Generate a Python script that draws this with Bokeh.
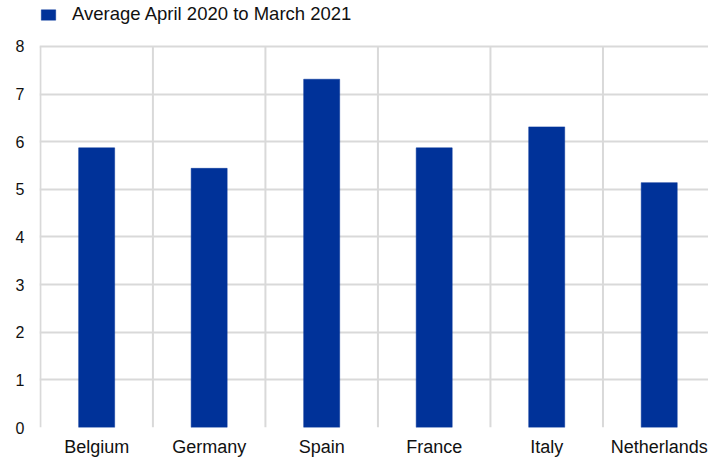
from bokeh.plotting import figure
from bokeh.models import Range1d, FixedTicker, Legend, LegendItem, ColumnDataSource
from bokeh.embed import file_html
from bokeh.resources import INLINE

countries = ["Belgium", "Germany", "Spain", "France", "Italy", "Netherlands"]
values = [5.87, 5.44, 7.31, 5.87, 6.31, 5.14]
series_name = "Average April 2020 to March 2021"
y_ticks = [0, 1, 2, 3, 4, 5, 6, 7, 8]

xpos = [i + 0.5 for i in range(len(countries))]
src = ColumnDataSource(dict(x=xpos, top=values, name=countries))
bounds = list(range(len(countries) + 1))
sep = ColumnDataSource(dict(x=bounds, y0=[min(y_ticks)] * len(bounds),
                            y1=[max(y_ticks)] * len(bounds)))

FONT = "Liberation Sans"
BLUE = "#003299"
GRID = "#d9d9d9"

# frame spans from canvas top; room above the 8-line holds the legend
p = figure(width=708, height=459, output_backend="svg", toolbar_location=None,
           x_range=Range1d(-0.008, 5.938), y_range=Range1d(0, 8.963),
           min_border_left=39, min_border_right=0, min_border_top=0, min_border_bottom=31)
p.outline_line_color = None
p.background_fill_color = "white"

# vertical category separators (stop at the top tick)
p.segment(x0="x", x1="x", y0="y0", y1="y1", source=sep,
          line_color=GRID, line_width=2, level="underlay")

bars = p.vbar(x="x", top="top", width=0.32, bottom=0, source=src,
              fill_color=BLUE, line_color=BLUE, line_width=0.5)

# axes
p.xaxis.ticker = FixedTicker(ticks=xpos)
p.xaxis.major_label_overrides = {x: c for x, c in zip(xpos, countries)}
p.yaxis.ticker = FixedTicker(ticks=y_ticks)
for ax in (p.xaxis, p.yaxis):
    ax.axis_line_color = None
    ax.major_tick_line_color = None
    ax.minor_tick_line_color = None
    ax.major_tick_out = 0
    ax.major_tick_in = 0
    ax.major_label_text_font = FONT
    ax.major_label_text_color = "#111111"
p.xaxis.major_label_text_font_size = "18px"
p.xaxis.major_label_standoff = 9
p.yaxis.major_label_text_font_size = "16px"
p.yaxis.major_label_standoff = 15

# grids
p.xgrid.visible = False
p.ygrid.ticker = FixedTicker(ticks=y_ticks)
p.ygrid.grid_line_color = GRID
p.ygrid.grid_line_width = 2

legend = Legend(items=[LegendItem(label=series_name, renderers=[bars])],
                location=(0, 402), orientation="horizontal",
                glyph_width=18, glyph_height=13, label_standoff=15,
                padding=0, margin=0, spacing=0,
                border_line_color=None, background_fill_alpha=0,
                label_text_font=FONT, label_text_font_size="18.5px",
                label_text_color="#111111")
p.add_layout(legend, "center")

open("out.html", "w").write(file_html(p, INLINE))
